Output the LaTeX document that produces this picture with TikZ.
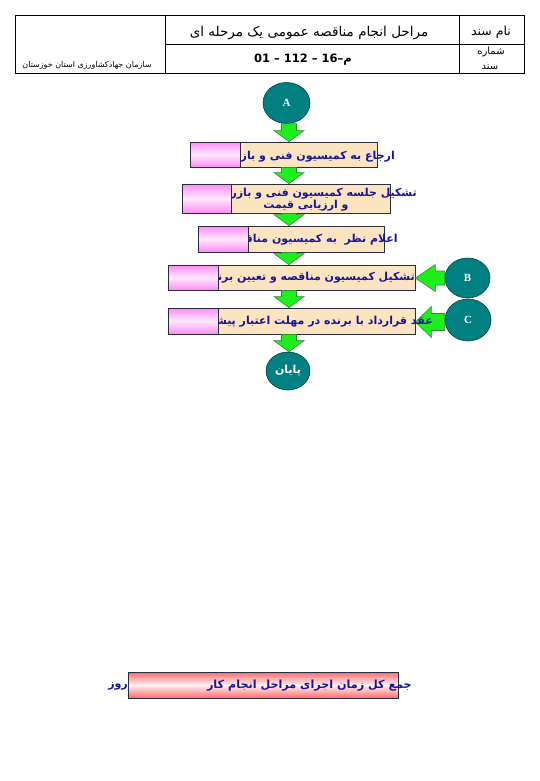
\documentclass[tikz,border=0pt]{standalone}
\usepackage{fontspec}
\setmainfont{DejaVu Sans}
\newfontfamily\fa[Script=Arabic]{DejaVu Sans}
\newfontfamily\latserif{Liberation Serif}
\TeXXeTstate=1
\usetikzlibrary{calc,shapes.geometric}
\definecolor{peach}{HTML}{FDE4C0}
\definecolor{pinkc}{HTML}{FF8CF5}
\definecolor{pinkm}{HTML}{FFE8FF}
\definecolor{navytxt}{HTML}{16169A}
\definecolor{tealc}{HTML}{008080}
\definecolor{tealline}{HTML}{0A3F3F}
\definecolor{greenc}{HTML}{1EF01E}
\definecolor{greenline}{HTML}{2A8A2A}
\definecolor{barred}{HTML}{FF6A6A}
\definecolor{barmid}{HTML}{FFF2F2}
\definecolor{boxline}{HTML}{2B2B3F}
\tikzset{
  cellline/.style={draw=black, line width=0.8pt},
  stepbox/.style={draw=boxline, fill=peach, line width=0.8pt, inner sep=0pt, minimum height=25pt},
  pinkpart/.style={draw=boxline, line width=0.8pt, inner sep=0pt, top color=pinkc, bottom color=pinkc, middle color=pinkm},
  boxtext/.style={text=navytxt, inner sep=0pt, font=\fa\bfseries\fontsize{11}{13}\selectfont},
  tealcirc/.style={ellipse, draw=tealline, fill=tealc, line width=0.6pt, inner sep=0pt, text=white},
  greenarrow/.style={draw=greenline, fill=greenc, line width=0.6pt, line join=miter},
  headtext/.style={inner sep=0pt, text=black},
}
\newcommand{\dnarrow}[2]{%
  \path[greenarrow] let \p1=(#1), \p2=(#2) in
    (\x1-7.5pt,\y1) -- (\x1+7.5pt,\y1) -- (\x1+7.5pt,\y2+11pt) -- (\x1+15pt,\y2+11pt)
    -- (\x1,\y2) -- (\x1-15pt,\y2+11pt) -- (\x1-7.5pt,\y2+11pt) -- cycle;}
% #1 start, #2 tip, #3 half shaft, #4 half head, #5 head length
\newcommand{\lfarrow}[5]{%
  \path[greenarrow] let \p1=(#1), \p2=(#2) in
    (\x1,\y2+#3) -- (\x2+#5,\y2+#3) -- (\x2+#5,\y2+#4) -- (\x2,\y2)
    -- (\x2+#5,\y2-#4) -- (\x2+#5,\y2-#3) -- (\x1,\y2-#3) -- cycle;}
\begin{document}
\begin{tikzpicture}[x=1pt,y=-1pt]
\useasboundingbox[fill=white] (0,0) rectangle (540,781);
% ---------- header table ----------
\draw[cellline] (15,15) rectangle (524,73);
\draw[cellline] (165,15) -- (165,73);
\draw[cellline] (459,15) -- (459,73);
\draw[cellline] (165,44) -- (524,44);
\node[headtext, font=\fa\fontsize{12.5}{14}\selectfont] (hname) at (491,32) {\beginR نام سند\endR};
\node[headtext, font=\fa\fontsize{10}{12}\selectfont] (hnum1) at (491,52) {\beginR شماره\endR};
\node[headtext, font=\fa\fontsize{10}{12}\selectfont] (hnum2) at (490,67) {\beginR سند\endR};
\node[headtext, font=\fa\fontsize{13.5}{15}\selectfont] (htitle) at (309,33) {\beginR مراحل انجام مناقصه عمومی یک مرحله ای\endR};
\node[headtext, font=\bfseries\fontsize{11.5}{13}\selectfont] (hcode) at (303,60) {01 -- 112 -- 16--{\fa م}};
\node[headtext, font=\fa\fontsize{8}{10}\selectfont] (horg) at (87,65) {\beginR سازمان جهادکشاورزی استان خوزستان\endR};
% ---------- flow ----------
\coordinate (axis) at (289,0);
\node[tealcirc, minimum width=47pt, minimum height=41pt, font=\latserif\bfseries\fontsize{11}{13}\selectfont] (A) at (286.5,103) {A};
% box 1
\node[stepbox, minimum width=187pt] (b1) at (283.5,154.5) {};
\begin{scope}
\clip (240,138) rectangle (540,172);
\node[boxtext, anchor=east] (t1) at (395,156) {\beginR ارجاع به کمیسیون فنی و بازرگانی\endR};
\end{scope}
\node[pinkpart, anchor=north west, minimum width=50pt, minimum height=25pt] (p1) at (b1.north west) {};
% box 2
\node[stepbox, minimum width=208pt, minimum height=29pt] (b2) at (286,198.5) {};
\begin{scope}
\clip (231,180) rectangle (540,217);
\node[boxtext, anchor=east] (t2a) at (417,193) {\beginR تشکیل جلسه کمیسیون فنی و بازرگانی\endR};
\node[boxtext] (t2b) at (306,205.5) {\beginR و ارزیابی قیمت\endR};
\end{scope}
\node[pinkpart, anchor=north west, minimum width=49pt, minimum height=29pt] (p2) at (b2.north west) {};
% box 3
\node[stepbox, minimum width=186pt, minimum height=26pt] (b3) at (291,239) {};
\begin{scope}
\clip (248,222) rectangle (540,256);
\node[boxtext, anchor=east] (t3) at (398,240) {\beginR اعلام نظر~ به کمیسیون مناقصه\endR};
\end{scope}
\node[pinkpart, anchor=north west, minimum width=50pt, minimum height=26pt] (p3) at (b3.north west) {};
% box 4
\node[stepbox, minimum width=247pt] (b4) at (291.5,277.5) {};
\begin{scope}
\clip (218,260) rectangle (540,295);
\node[boxtext, anchor=east] (t4) at (415,278) {\beginR تشکیل کمیسیون مناقصه و تعیین برنده\endR};
\end{scope}
\node[pinkpart, anchor=north west, minimum width=50pt, minimum height=25pt] (p4) at (b4.north west) {};
% box 5
\node[stepbox, minimum width=247pt, minimum height=26pt] (b5) at (291.5,321) {};
\node[pinkpart, anchor=north west, minimum width=50pt, minimum height=26pt] (p5) at (b5.north west) {};
% side circles
\node[tealcirc, minimum width=45pt, minimum height=40pt, font=\latserif\bfseries\fontsize{11}{13}\selectfont] (B) at (467.5,278) {B};
\node[tealcirc, minimum width=46pt, minimum height=42pt, font=\latserif\bfseries\fontsize{11}{13}\selectfont] (C) at (468,320) {C};
% end circle
\node[tealcirc, minimum width=44pt, minimum height=38pt, font=\fa\bfseries\fontsize{11}{13}\selectfont] (E) at (288,371) {\beginR پایان\endR};
% down arrows
\dnarrow{axis |- A.south}{axis |- b1.north}
\dnarrow{axis |- b1.south}{axis |- b2.north}
\dnarrow{axis |- b2.south}{axis |- b3.north}
\dnarrow{axis |- b3.south}{axis |- b4.north}
\dnarrow{axis |- b4.south}{axis |- b5.north}
\dnarrow{axis |- b5.south}{axis |- E.north}
% side arrows
\lfarrow{B.west}{b4.east |- B.west}{7pt}{13.5pt}{20pt}
\lfarrow{C.west}{b5.east |- 0,322}{8.5pt}{15.5pt}{16pt}
% box 5 text over arrow
\begin{scope}
\clip (218,304) rectangle (540,338);
\node[boxtext, anchor=east] (t5) at (433,322) {\beginR عقد قرارداد با برنده در مهلت اعتبار پیشنهاد\endR};
\end{scope}
% ---------- total bar ----------
\node[draw=boxline, line width=0.8pt, inner sep=0pt, minimum width=270pt, minimum height=26pt, top color=barred, bottom color=barred, middle color=barmid] (bar) at (263,685) {};
\node[boxtext, anchor=east, font=\fa\bfseries\fontsize{11.2}{13}\selectfont] (bartext) at (412,686) {\beginR جمع کل زمان اجرای مراحل انجام کار\endR};
\node[boxtext, anchor=east, font=\fa\bfseries\fontsize{11}{13}\selectfont] (days) at (128,686) {\beginR روز\endR};
\end{tikzpicture}
\end{document}
